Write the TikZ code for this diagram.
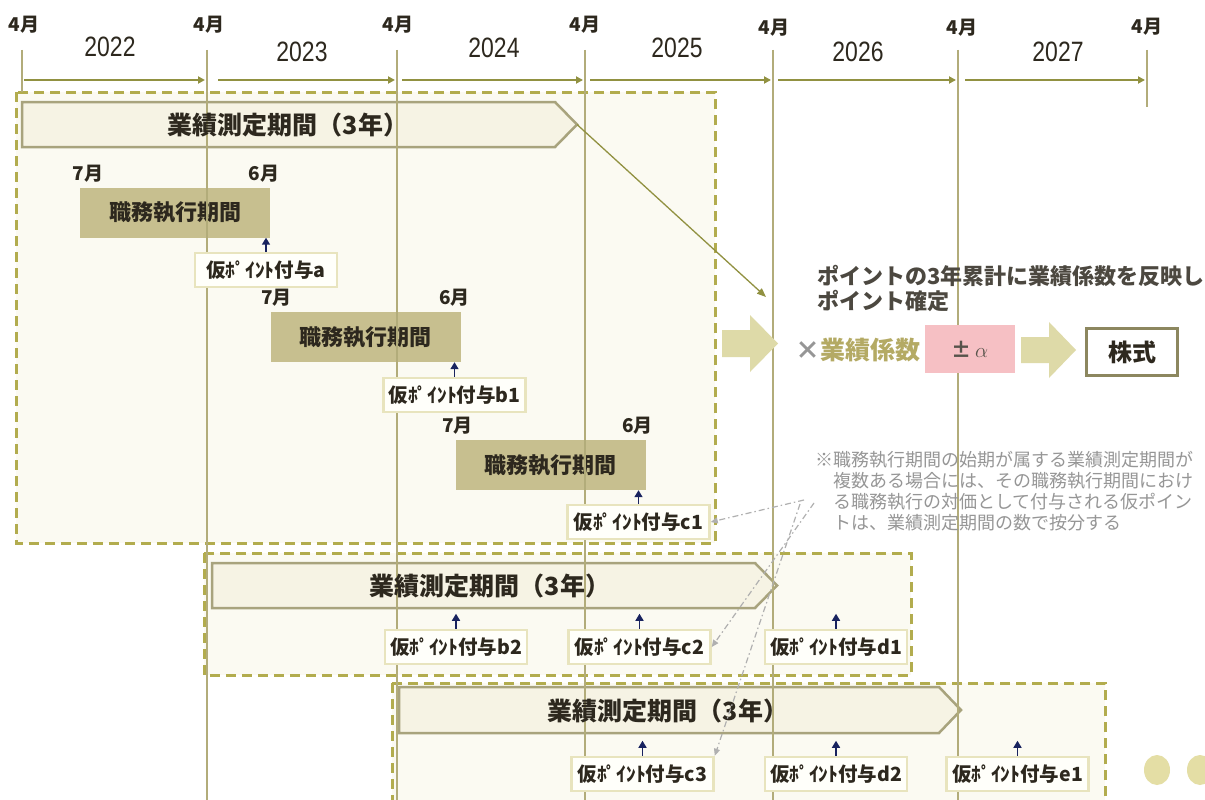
\documentclass[tikz,border=0pt]{standalone}
\usepackage{fontspec}
\setmainfont{Noto Sans CJK JP}
\newfontfamily\yearfont{Liberation Sans}[FakeStretch=0.82]
\usetikzlibrary{positioning,arrows.meta}
\definecolor{tlolive}{RGB}{145,145,65}
\definecolor{dashcol}{RGB}{178,172,78}
\definecolor{boxfill}{RGB}{251,250,242}
\definecolor{vlinecol}{RGB}{178,172,122}
\definecolor{barfill}{RGB}{246,243,228}
\definecolor{bardraw}{RGB}{168,163,125}
\definecolor{dutyfill}{RGB}{199,191,143}
\definecolor{grantfill}{RGB}{255,255,250}
\definecolor{grantdraw}{RGB}{232,228,190}
\definecolor{darktext}{RGB}{45,40,30}
\definecolor{navyarrow}{RGB}{25,35,95}
\definecolor{fatcol}{RGB}{222,218,168}
\definecolor{pinkcol}{RGB}{246,192,196}
\definecolor{stockdraw}{RGB}{140,135,95}
\definecolor{notegray}{RGB}{150,150,150}
\definecolor{coefolive}{RGB}{180,170,100}
\definecolor{dotcol}{RGB}{228,222,165}
\tikzset{
  vline/.style={draw=vlinecol, line width=1.2pt},
  tlarrow/.style={draw=tlolive, line width=2pt, -{Triangle[length=7pt,width=7pt]}},
  periodbox/.style={fill=boxfill, draw=dashcol, line width=3pt, dash pattern=on 10pt off 6pt},
  bar/.style={fill=barfill, draw=bardraw, line width=2.5pt, line join=miter},
  bartext/.style={font=\fontsize{25}{28}\selectfont\bfseries, text=darktext, inner sep=0pt},
  duty/.style={fill=dutyfill, minimum width=190, minimum height=50, inner sep=0pt, font=\fontsize{22}{24}\selectfont\bfseries, text=darktext},
  grant/.style={fill=grantfill, draw=grantdraw, line width=2.5pt, minimum width=142, minimum height=34, inner sep=0pt, font=\fontsize{19.5}{21}\selectfont\bfseries, text=darktext},
  month/.style={font=\fontsize{19}{21}\selectfont\bfseries, text=darktext, inner sep=1pt},
  yearlbl/.style={font=\yearfont\fontsize{28}{30}\selectfont, text=darktext, inner sep=0pt},
  uparrow/.style={draw=navyarrow, line width=1.5pt, -{Triangle[length=7pt,width=8pt]}},
  diagarrow/.style={draw=tlolive, line width=1.3pt, -{Triangle[length=9pt,width=7pt]}},
  notearrow/.style={draw=notegray!75, line width=1.2pt, dash pattern=on 6pt off 3pt on 1.5pt off 3pt, -{Triangle[length=7pt,width=6pt]}},
  note/.style={font=\fontsize{18}{21}\selectfont, text=notegray, align=left, inner sep=0pt},
}
\begin{document}
\begin{tikzpicture}[x=1pt,y=-1pt]
\useasboundingbox (0,0) rectangle (1205,800);
\fill[white] (0,0) rectangle (1205,800);

\draw[periodbox] (16,92) rectangle (715,543);
\draw[periodbox] (204,553) rectangle (911,675);
\draw[periodbox] (392,683) rectangle (1105,815);

\draw[bar] (22,102) -- (555,102) -- (577,124.5) -- (555,147) -- (22,147) -- cycle;
\draw[bar] (212,563) -- (755,563) -- (777,585.5) -- (755,608) -- (212,608) -- cycle;
\draw[bar] (399,687) -- (939,687) -- (961,710) -- (939,733) -- (399,733) -- cycle;

\node[duty] (duty1) at (175,212.5) {職務執行期間};
\node[duty] (duty2) at (365.5,337) {職務執行期間};
\node[duty] (duty3) at (550.5,465) {職務執行期間};

\draw[vline] (22,50) -- (22,92);
\draw[vline] (207,50) -- (207,800);
\draw[vline] (397,50) -- (397,800);
\draw[vline] (585,50) -- (585,800);
\draw[vline] (773,50) -- (773,800);
\draw[vline] (958,50) -- (958,800);
\draw[vline] (1147,50) -- (1147,107);

\node[month] (apr0) at (24,25) {4月};
\node[month] (apr1) at (209,25) {4月};
\node[month] (apr2) at (398,25) {4月};
\node[month] (apr3) at (585,25) {4月};
\node[month] (apr4) at (774,28) {4月};
\node[month] (apr5) at (962,28) {4月};
\node[month] (apr6) at (1147,27) {4月};

\node[yearlbl] (y2022) at (110,47) {2022};
\node[yearlbl] (y2023) at (302,52) {2023};
\node[yearlbl] (y2024) at (494,48) {2024};
\node[yearlbl] (y2025) at (677,48) {2025};
\node[yearlbl] (y2026) at (858,52) {2026};
\node[yearlbl] (y2027) at (1058,52) {2027};

\draw[tlarrow] (24,80) -- (205,80);
\draw[tlarrow] (218,80) -- (395,80);
\draw[tlarrow] (402,80) -- (583,80);
\draw[tlarrow] (590,80) -- (771,80);
\draw[tlarrow] (778,80) -- (956,80);
\draw[tlarrow] (965,80) -- (1145,80);

\node[bartext] (meas1) at (288,125) {業績測定期間（3年）};
\node[bartext] (meas2) at (490,586) {業績測定期間（3年）};
\node[bartext] (meas3) at (668,711) {業績測定期間（3年）};

\node[month, above=4pt of duty1.north west, xshift=8pt] (jul1) {7月};
\node[month, above=4pt of duty1.north east, xshift=-6pt] (jun1) {6月};
\node[month, above=4pt of duty2.north west, xshift=6pt] (jul2) {7月};
\node[month, above=4pt of duty2.north east, xshift=-6pt] (jun2) {6月};
\node[month, above=4pt of duty3.north west, xshift=2pt] (jul3) {7月};
\node[month, above=4pt of duty3.north east, xshift=-8pt] (jun3) {6月};

\node[grant] (ga) at (266,270) {仮ﾎﾟｲﾝﾄ付与a};
\node[grant] (gb1) at (454.5,395) {仮ﾎﾟｲﾝﾄ付与b1};
\node[grant] (gc1) at (638.5,522) {仮ﾎﾟｲﾝﾄ付与c1};
\node[grant] (gb2) at (456,647) {仮ﾎﾟｲﾝﾄ付与b2};
\node[grant] (gc2) at (639.5,647) {仮ﾎﾟｲﾝﾄ付与c2};
\node[grant] (gd1) at (836,647) {仮ﾎﾟｲﾝﾄ付与d1};
\node[grant] (gc3) at (642.5,774) {仮ﾎﾟｲﾝﾄ付与c3};
\node[grant] (gd2) at (836,774) {仮ﾎﾟｲﾝﾄ付与d2};
\node[grant] (ge1) at (1017.5,774) {仮ﾎﾟｲﾝﾄ付与e1};

\draw[uparrow] (ga.north) -- (ga.north |- duty1.south);
\draw[uparrow] (gb1.north) -- (gb1.north |- duty2.south);
\draw[uparrow] (gc1.north) -- (gc1.north |- duty3.south);
\draw[uparrow] (gb2.north) -- ++(0,-15);
\draw[uparrow] (gc2.north) -- ++(0,-15);
\draw[uparrow] (gd1.north) -- ++(0,-15);
\draw[uparrow] (gc3.north) -- ++(0,-15);
\draw[uparrow] (gd2.north) -- ++(0,-15);
\draw[uparrow] (ge1.north) -- ++(0,-15);

\coordinate (tip1) at (577,124.5);
\coordinate (fixpt) at (766,297);
\draw[diagarrow] (tip1) -- (fixpt);

\node[font=\fontsize{22}{25}\selectfont\bfseries, text=darktext!85, align=left, anchor=west, inner sep=0pt] (fixtext) at (817,288) {ポイントの3年累計に業績係数を反映し\\ポイント確定};

\fill[fatcol] (722,330) -- (750,330) -- (750,315) -- (778,343.5) -- (750,372) -- (750,357) -- (722,357) -- cycle;
\node[font=\fontsize{25}{28}\selectfont\bfseries, inner sep=0pt] (coef) at (858,350) {{\color{notegray}×}\color{coefolive}業績係数};
\node[fill=pinkcol, minimum width=90, minimum height=48, inner sep=0pt, font=\fontsize{20}{22}\selectfont\bfseries, text=darktext!80] (alpha) at (970,349) {±\,$\alpha$};
\fill[fatcol] (1021,337) -- (1049,337) -- (1049,322) -- (1076,350) -- (1049,378) -- (1049,363) -- (1021,363) -- cycle;
\node[fill=white, draw=stockdraw, line width=3.5pt, minimum width=91, minimum height=47, inner sep=0pt, font=\fontsize{24}{26}\selectfont\bfseries, text=darktext] (stock) at (1132,352) {株式};

\node[note, anchor=west] (note) at (815,491) {※職務執行期間の始期が属する業績測定期間が\\　複数ある場合には、その職務執行期間におけ\\　る職務執行の対価として付与される仮ポイン\\　トは、業績測定期間の数で按分する};

\coordinate (src1) at (804,500);
\coordinate (src2) at (814,503);
\coordinate (src3) at (800,504);
\draw[notearrow] (src1) -- (gc1.east);
\draw[notearrow] (src2) -- (gc2.east);
\draw[notearrow] (src3) -- (gc3.north east);

\fill[dotcol] (1157,770) ellipse (13 and 15);
\fill[dotcol] (1200,770) ellipse (13 and 15);
\end{tikzpicture}
\end{document}
